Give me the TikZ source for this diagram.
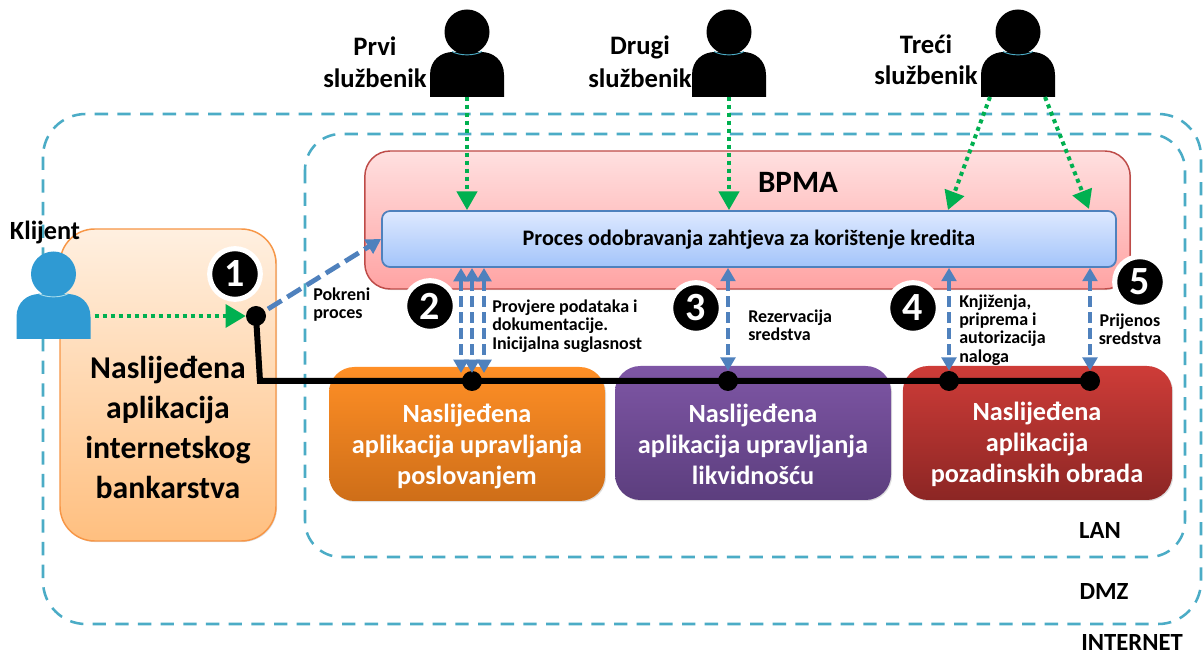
\documentclass[tikz,border=0pt]{standalone}
\usepackage{fontspec}
\setmainfont{Carlito}
\usetikzlibrary{arrows.meta,shadows,calc}
\definecolor{teal}{HTML}{4BACC6}
\definecolor{gr}{HTML}{00B050}
\definecolor{bl}{HTML}{4F81BD}
\definecolor{clientblue}{HTML}{2F9AD3}
\definecolor{lightteal}{HTML}{A8DCEB}
\definecolor{inetedge}{HTML}{F79646}
\newcommand{\fs}[1]{\fontsize{#1}{#1}\selectfont\bfseries}
\newcommand{\personfig}[5]{% name, x, bottom y, colour, outline
  \begin{scope}[shift={(#2,#3)}]
    \fill[#4] (-37,0) -- (-37,-22) .. controls (-37,-37) and (-26,-45) .. (-14,-45) -- (14,-45) .. controls (26,-45) and (37,-37) .. (37,-22) -- (37,0) -- cycle;
    \fill[#4] (0,-65) circle[radius=22.5];
    \draw[#5,line width=.7pt] (-15,-45.5) .. controls (-7,-41) and (7,-41) .. (15,-45.5);
  \end{scope}
  \node[personbox] (#1) at ($(#2,#3)+(0,-33)$) {};
}
\tikzset{
  x=0.75pt,y=-0.75pt,
  zone/.style={draw=teal,line width=1.9pt,dash pattern=on 10pt off 7pt,rounded corners=32pt},
  appbox/.style={rounded corners=19pt,drop shadow={shadow xshift=0.8pt,shadow yshift=-0.8pt,opacity=.25}},
  personbox/.style={minimum width=55.5pt,minimum height=49pt,inner sep=0pt,outer sep=0pt},
  actor/.style={draw=gr,line width=3pt,dash pattern=on 3pt off 3pt,-{Triangle[length=14pt,width=15pt,fill=gr]}},
  flow/.style={draw=bl,line width=3.2pt,dash pattern=on 8pt off 4pt,{Triangle[length=10pt,width=11pt,fill=bl]}-{Triangle[length=10pt,width=11pt,fill=bl]}},
  startflow/.style={draw=bl,line width=3.6pt,dash pattern=on 12pt off 5pt,-{Triangle[length=11pt,width=12pt,fill=bl]}},
  trunk/.style={draw=black,line width=4.5pt,line join=miter},
  dot/.style={circle,fill=black,minimum size=15pt,inner sep=0pt},
  badge/.style={circle,fill=black,draw=white,line width=3.8pt,minimum size=38pt,inner sep=0pt,text=white,font=\fs{30},drop shadow={shadow xshift=0.6pt,shadow yshift=-0.6pt,opacity=.35}},
  small/.style={font=\fs{13.5},align=left,anchor=west,inner sep=0pt},
  mid/.style={font=\fs{20},align=center,inner sep=0pt},
  apptxt/.style={text=white,font=\fs{19.7},align=center,inner sep=0pt},
}
\begin{document}
\begin{tikzpicture}
\useasboundingbox (0,0) rectangle (1203,655);
\fill[white] (0,0) rectangle (1203,655);
% zones
\draw[zone] (43,114) rectangle (1201,624);
\draw[zone,rounded corners=27pt] (305,134) rectangle (1185,557);
% main boxes
\node[appbox,draw=inetedge,line width=1.1pt,rounded corners=26pt,top color=orange!12,bottom color=orange!50!white,
  minimum width=162pt,minimum height=234pt,inner sep=0pt] (inet) at (168,385) {};
\node[appbox,draw={rgb,255:red,190;green,75;blue,72},line width=1.1pt,top color={rgb,255:red,255;green,224;blue,224},bottom color={rgb,255:red,255;green,163;blue,163},
  minimum width=574pt,minimum height=103.5pt,inner sep=0pt] (bpma) at (747.5,220) {};
\node[draw=bl,line width=1.3pt,rounded corners=6pt,top color={rgb,255:red,222;green,233;blue,255},bottom color={rgb,255:red,163;green,196;blue,250},
  drop shadow={shadow xshift=0.6pt,shadow yshift=-0.6pt,opacity=.3},
  minimum width=550.5pt,minimum height=42pt,inner sep=0pt] (proc) at (749,239) {};
\node[appbox,top color={rgb,255:red,255;green,143;blue,38},bottom color={rgb,255:red,206;green,110;blue,24},
  minimum width=207pt,minimum height=100.5pt,inner sep=0pt] (biz) at (467,434) {};
\node[appbox,top color={rgb,255:red,126;green,86;blue,165},bottom color={rgb,255:red,92;green,62;blue,126},
  minimum width=207pt,minimum height=100.5pt,inner sep=0pt] (liq) at (753,433) {};
\node[appbox,top color={rgb,255:red,206;green,60;blue,56},bottom color={rgb,255:red,140;green,38;blue,36},
  minimum width=202pt,minimum height=100.5pt,inner sep=0pt] (back) at (1037.5,433) {};
% persons
\personfig{client}{53.5}{339}{clientblue}{lightteal}
\personfig{first}{467}{97}{black}{teal}
\personfig{second}{729}{97}{black}{teal}
\personfig{third}{1018}{97}{black}{teal}
% texts
\node[font=\fs{19.7},inner sep=0pt] (tkl) at (45,233) {Klijent};
\node[mid] (t1a) at (375,46) {Prvi};
\node[mid] (t1b) at (375,78) {službenik};
\node[mid] (t2a) at (640,47) {Drugi};
\node[mid] (t2b) at (640,78) {službenik};
\node[mid] (t3a) at (926,44) {Treći};
\node[mid] (t3b) at (926,75) {službenik};
\node[font=\fs{23.3},inner sep=0pt] (tb) at (798,182) {BPMA};
\node[font=\fs{16.6},inner sep=0pt] (tp) at (749,240) {Proces odobravanja zahtjeva za korištenje kredita};
\node[font=\fs{23.8},align=center,inner sep=0pt] (ti) at (168,427) {Naslijeđena\\[6.2pt]aplikacija\\[6.2pt]internetskog\\[6.2pt]bankarstva};
\node[apptxt] (tbiz) at (467,446.5) {Naslijeđena\\[3.5pt]aplikacija upravljanja\\[3.5pt]poslovanjem};
\node[apptxt] (tliq) at (753,444.5) {Naslijeđena\\[3.5pt]aplikacija upravljanja\\[3.5pt]likvidnošću};
\node[apptxt] (tback) at (1037,444.5) {Naslijeđena\\[3.5pt]aplikacija\\[3.5pt]pozadinskih obrada};
\node[small] (tpok) at (313,305) {Pokreni\\proces};
\node[small] (tpro) at (492,326) {Provjere podataka i\\[0.3pt]dokumentacije.\\[0.3pt]Inicijalna suglasnost};
\node[small] (trez) at (748,325) {Rezervacija\\[0.3pt]sredstva};
\node[small] (tknj) at (959,330) {Knjiženja,\\[0.3pt]priprema i\\[0.3pt]autorizacija\\[0.3pt]naloga};
\node[small,align=center,anchor=center] (tpri) at (1130,329) {Prijenos\\sredstva};
\node[font=\fs{18.5},inner sep=0pt] (tlan) at (1100,531) {LAN};
\node[font=\fs{18.5},inner sep=0pt] (tdmz) at (1104,592) {DMZ};
\node[font=\fs{18.5},inner sep=0pt] (tnet) at (1132,643) {INTERNET};
% junction dots
\node[dot,minimum size=15pt] (d1) at (256,316) {};
\node[dot] (d2) at (472,381) {};
\node[dot] (d3) at (728,381) {};
\node[dot] (d4) at (949,381) {};
\node[dot] (d5) at (1090,381) {};
\coordinate (bend) at (260,381);
% trunk
\draw[trunk] (d1.center) -- (bend) -- (d2.center) -- (d3.center) -- (d4.center) -- (d5.center);
% client connectors
\draw[actor,-{Triangle[length=15pt,width=17pt,fill=gr]}] ([xshift=3pt]client.east |- d1) -- (d1.west);
\coordinate (s1) at ($(d1.center)+(12,-7)$);
\draw[startflow] (s1) -- (proc.west);
% officers
\coordinate (o31) at (990,97);
\coordinate (o32) at (1045,97);
\coordinate (e31) at (948,210);
\coordinate (e32) at (1089,209);
\draw[actor] (first.south) -- (first.south |- proc.north);
\draw[actor] (second.south) -- (second.south |- proc.north);
\draw[actor] (o31) -- (e31);
\draw[actor] (o32) -- (e32);
% bidirectional flows
\coordinate (a1) at (461,268); \coordinate (b1) at (461,373);
\coordinate (a2) at (472,268); \coordinate (b2) at (472,373);
\coordinate (a3) at (484,268); \coordinate (b3) at (484,373);
\draw[flow] (a1) -- (b1);
\draw[flow] (a2) -- (b2);
\draw[flow] (a3) -- (b3);
\draw[flow] (d3 |- proc.south) -- (d3.north);
\draw[flow] (d4 |- proc.south) -- (d4.north);
\draw[flow] (d5 |- proc.south) -- (d5.north);
% badges
\node[badge] (n1) at (235,274) {1};
\node[badge] (n2) at (430,306) {2};
\node[badge] (n3) at (696,308) {3};
\node[badge] (n4) at (913,308) {4};
\node[badge] (n5) at (1140,282) {5};
\end{tikzpicture}
\end{document}
